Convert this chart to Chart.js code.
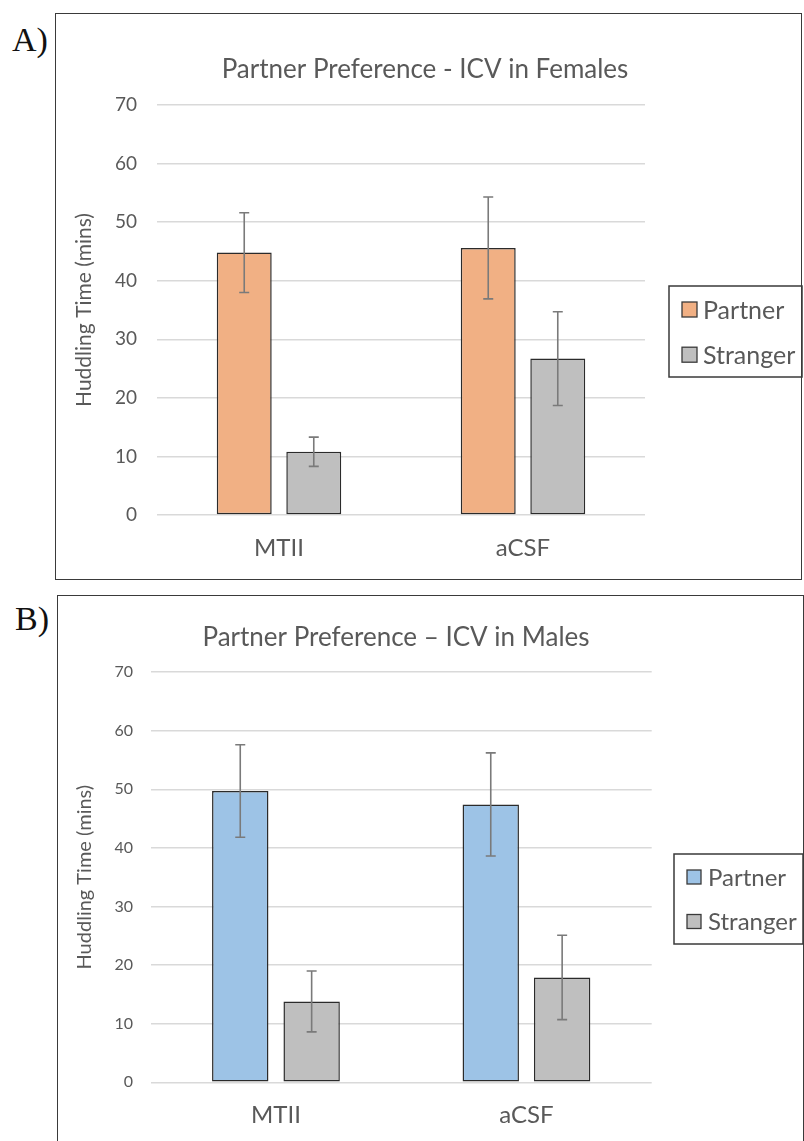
<!DOCTYPE html>
<html>
<head>
<meta charset="utf-8">
<title>Partner Preference - ICV</title>
<script src="https://cdn.jsdelivr.net/npm/chart.js@4.4.1/dist/chart.umd.min.js"></script>
<style>
  html, body { margin: 0; padding: 0; background: #ffffff; }
  body { width: 804px; height: 1141px; position: relative; overflow: hidden; }
  .frame { position: absolute; box-sizing: border-box; border: 1.5px solid #3a3a3a; }
  .panel-tag { position: absolute; font-family: "Liberation Serif", "Times New Roman", serif;
               font-size: 34px; line-height: 34px; color: #111; }
  canvas { position: absolute; }
</style>
</head>
<body>
<div class="frame" style="left:55px; top:13px; width:747px; height:567px;"></div>
<div class="frame" style="left:57px; top:595px; width:747px; height:600px;"></div>
<div class="panel-tag" style="left:12px; top:23px;">A)</div>
<div class="panel-tag" style="left:15px; top:602px;">B)</div>

<canvas id="femaleChart" width="758" height="567" style="left:46px; top:13px;"></canvas>
<canvas id="maleChart" width="748" height="546" style="left:57px; top:595px;"></canvas>

<script>
// Treatment groups and y-axis tick values
const categories = ['MTII', 'aCSF'];
const yTickValues = [0, 10, 20, 30, 40, 50, 60, 70];

// Females: mean huddling time (mins) and SEM
const femalePartner = [44.8, 45.6];
const femalePartnerErr = [6.8, 8.7];
const femaleStranger = [10.8, 26.7];
const femaleStrangerErr = [2.5, 8.0];

// Males: mean huddling time (mins) and SEM
const malePartner = [49.7, 47.4];
const malePartnerErr = [7.9, 8.8];
const maleStranger = [13.8, 17.9];
const maleStrangerErr = [5.2, 7.2];

const TEXT = '#595959';
const BAR_EDGE = '#2b2b2b';

// Vertical error bars with caps, drawn from each bar's value +/- its error
const errorBarPlugin = {
  id: 'errorBars',
  afterDatasetsDraw(chart) {
    const ctx = chart.ctx;
    const yScale = chart.scales.y;
    chart.data.datasets.forEach((ds, i) => {
      if (!ds.errors) return;
      const meta = chart.getDatasetMeta(i);
      meta.data.forEach((bar, j) => {
        const v = ds.data[j], e = ds.errors[j];
        const yHi = yScale.getPixelForValue(v + e);
        const yLo = yScale.getPixelForValue(v - e);
        const x = bar.x, cap = 5;
        ctx.save();
        ctx.strokeStyle = '#7a7a7a';
        ctx.lineWidth = 1.6;
        ctx.beginPath();
        ctx.moveTo(x, yHi); ctx.lineTo(x, yLo);
        ctx.moveTo(x - cap, yHi); ctx.lineTo(x + cap, yHi);
        ctx.moveTo(x - cap, yLo); ctx.lineTo(x + cap, yLo);
        ctx.stroke();
        ctx.restore();
      });
    });
  }
};

// Boxed legend with square swatches, built from the datasets
const boxLegendPlugin = {
  id: 'boxLegend',
  afterDraw(chart, args, opts) {
    const ctx = chart.ctx;
    ctx.save();
    ctx.strokeStyle = '#3a3a3a';
    ctx.lineWidth = 1.5;
    ctx.strokeRect(opts.x, opts.y, opts.w, opts.h);
    ctx.font = opts.fontSize + 'px Lato';
    ctx.textBaseline = 'middle';
    ctx.textAlign = 'left';
    chart.data.datasets.forEach((ds, i) => {
      const cy = opts.rows[i];
      const s = opts.swatch;
      ctx.fillStyle = ds.backgroundColor;
      ctx.fillRect(opts.swatchX, cy - s / 2, s, s);
      ctx.strokeStyle = '#3a3a3a';
      ctx.lineWidth = 1.3;
      ctx.strokeRect(opts.swatchX, cy - s / 2, s, s);
      ctx.fillStyle = TEXT;
      ctx.fillText(ds.label, opts.textX, cy + 1);
    });
    ctx.restore();
  }
};

function buildChart(id, cfg) {
  const barStyle = { borderColor: BAR_EDGE, borderWidth: 1.5, borderSkipped: false,
                     categoryPercentage: 0.57, barPercentage: 0.79 };
  return new Chart(document.getElementById(id), {
    type: 'bar',
    data: {
      labels: categories,
      datasets: [
        Object.assign({ label: 'Partner', data: cfg.partner, errors: cfg.partnerErr,
                        backgroundColor: cfg.partnerColor }, barStyle),
        Object.assign({ label: 'Stranger', data: cfg.stranger, errors: cfg.strangerErr,
                        backgroundColor: '#bfbfbf' }, barStyle)
      ]
    },
    options: {
      responsive: false,
      animation: false,
      devicePixelRatio: 1,
      layout: { padding: { left: 0, right: cfg.padRight, top: 0, bottom: 0 } },
      plugins: {
        legend: { display: false },
        tooltip: { enabled: false },
        title: {
          display: true,
          text: cfg.title,
          fullSize: true,
          color: TEXT,
          font: { family: 'Lato', size: 26, weight: 'normal', lineHeight: 1.2 },
          padding: { top: cfg.titlePadTop, bottom: cfg.titlePadBottom }
        },
        boxLegend: cfg.legend
      },
      scales: {
        x: {
          grid: { display: false, drawTicks: false },
          border: { display: false },
          ticks: { color: TEXT, font: { family: 'Lato', size: 24, lineHeight: 1.2 }, padding: cfg.xPad },
          afterFit(s) { s.height = cfg.xHeight; }
        },
        y: {
          min: 0, max: 70,
          afterBuildTicks(s) { s.ticks = yTickValues.map(v => ({ value: v })); },
          grid: { color: '#d9d9d9', lineWidth: 1.4, drawTicks: false },
          border: { display: false },
          ticks: { color: TEXT, font: { family: 'Lato', size: cfg.yTickSize }, padding: cfg.yPad },
          title: {
            display: true,
            text: 'Huddling Time (mins)',
            color: TEXT,
            font: { family: 'Lato', size: cfg.yTitleSize, lineHeight: 1.2 },
            padding: { top: cfg.yTitlePad, bottom: 0 }
          },
          afterFit(s) { s.width = cfg.yWidth; }
        },
        // empty right-hand box that keeps the plot clear of the legend
        side: {
          type: 'linear',
          position: 'right',
          grid: { display: false, drawTicks: false },
          border: { display: false },
          ticks: { display: false },
          afterFit(s) { s.width = cfg.rightGap; }
        }
      }
    },
    plugins: [errorBarPlugin, boxLegendPlugin]
  });
}

buildChart('femaleChart', {
  title: 'Partner Preference - ICV in Females',
  titlePadTop: 41.4, titlePadBottom: 19.4,
  partner: femalePartner, partnerErr: femalePartnerErr,
  stranger: femaleStranger, strangerErr: femaleStrangerErr,
  partnerColor: '#f1b084',
  padRight: 0, rightGap: 159,
  yWidth: 111, yPad: 20, yTickSize: 19,
  yTitleSize: 21, yTitlePad: 25.4,
  xHeight: 65, xPad: 18.6,
  legend: { x: 623, y: 273, w: 133, h: 91, swatch: 15, swatchX: 636,
            textX: 657, rows: [296.5, 341.7], fontSize: 25 }
});

buildChart('maleChart', {
  title: 'Partner Preference \u2013 ICV in Males',
  titlePadTop: 27.4, titlePadBottom: 18.4,
  partner: malePartner, partnerErr: malePartnerErr,
  stranger: maleStranger, strangerErr: maleStrangerErr,
  partnerColor: '#9dc3e6',
  padRight: 70, rightGap: 83.3,
  yWidth: 93.7, yPad: 17.7, yTickSize: 16,
  yTitleSize: 20, yTitlePad: 16,
  xHeight: 58.7, xPad: 18.3,
  legend: { x: 617, y: 259, w: 129, h: 90, swatch: 14, swatchX: 630,
            textX: 651, rows: [282, 326.5], fontSize: 24 }
});
</script>
</body>
</html>
